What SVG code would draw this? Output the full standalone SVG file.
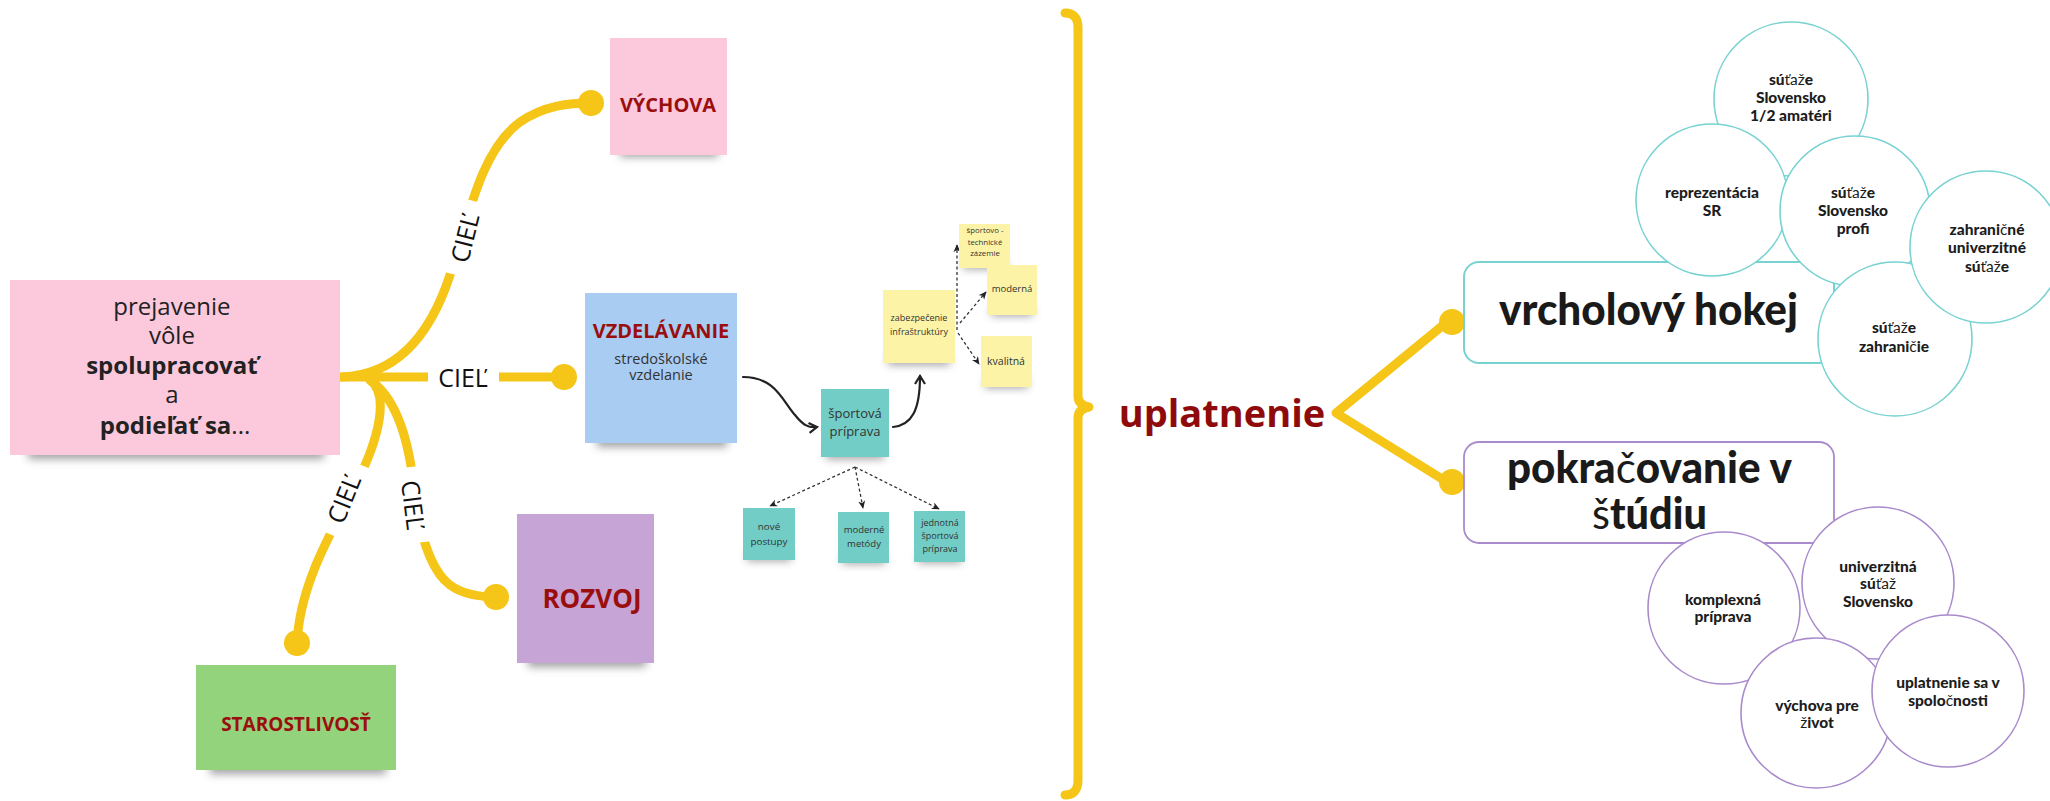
<svg xmlns="http://www.w3.org/2000/svg" width="2050" height="801" viewBox="0 0 2050 801">
<defs>
<style>
.y{fill:none;stroke:#f5c518;stroke-width:9;stroke-linecap:round;stroke-linejoin:round}
.dot{fill:#f5c518}
.os{font-family:"Open Sans","Noto Sans","Liberation Sans",sans-serif}
.ttl{font-family:"Open Sans","Noto Sans","Liberation Sans",sans-serif;font-weight:700;fill:#9b0e0e;text-anchor:middle}
.cl{font-family:"Open Sans","Noto Sans","Liberation Sans",sans-serif;font-size:25px;fill:#111;text-anchor:middle}
.sm{font-family:"Open Sans","Noto Sans","Liberation Sans",sans-serif;fill:#333;text-anchor:middle}
.sh{fill:#444;opacity:.5;filter:url(#blur)}
.ccy{fill:#fff;stroke:#79d2d2;stroke-width:1.6}
.cpu{fill:#fff;stroke:#a98bcc;stroke-width:1.6}
.rt{font-family:Lato,"Noto Sans","Liberation Sans",sans-serif;font-weight:900;font-size:15.5px;fill:#1d1d1d;text-anchor:middle}
.big{font-family:Lato,"Noto Sans","Liberation Sans",sans-serif;font-weight:900;font-size:43px;fill:#1a1a1a;text-anchor:middle}
.lt{font-weight:400}
.ar{fill:none;stroke:#222;stroke-width:2.2;stroke-linecap:round}
.da{fill:none;stroke:#333;stroke-width:1.3;stroke-dasharray:3 2.5}
.bg{fill:#fff}
</style>
<filter id="blur" x="-20%" y="-80%" width="140%" height="260%"><feGaussianBlur stdDeviation="4"/></filter>
<marker id="ah" viewBox="0 0 12 12" refX="10" refY="6" markerWidth="12" markerHeight="12" markerUnits="userSpaceOnUse" orient="auto"><path d="M2,1 L10,6 L2,11" fill="none" stroke="#222" stroke-width="2.2"/></marker>
<marker id="dh" viewBox="0 0 10 10" refX="9" refY="5" markerWidth="8" markerHeight="8" markerUnits="userSpaceOnUse" orient="auto"><path d="M0,0.5 L10,5 L0,9.5 L3,5 z" fill="#222"/></marker>
</defs>
<rect width="2050" height="801" fill="#fff"/>

<g id="connectors">
  <path class="y" d="M342,377 C400,375 432,330 450,275 C470,210 482,150 520,122 C545,105 570,103 591,103"/>
  <path class="y" d="M340,377 L564,377"/>
  <path class="y" d="M370,380 C390,395 378,440 358,480 C336,525 300,580 297,643"/>
  <path class="y" d="M370,380 C396,398 408,440 413,480 C418,530 430,570 450,585 C462,594 480,597 497,597"/>
  <circle class="dot" cx="591" cy="103" r="13"/>
  <circle class="dot" cx="564" cy="377" r="13"/>
  <circle class="dot" cx="297" cy="643" r="13"/>
  <circle class="dot" cx="496" cy="597" r="13"/>
  <g transform="translate(465,238) rotate(-76)"><rect class="bg" x="-38" y="-15" width="76" height="30"/><text class="cl" y="9">CIEĽ</text></g>
  <g><rect class="bg" x="428" y="362" width="71" height="30"/><text class="cl" x="463" y="387">CIEĽ</text></g>
  <g transform="translate(344,499) rotate(-68)"><rect class="bg" x="-38" y="-15" width="76" height="30"/><text class="cl" y="9">CIEĽ</text></g>
  <g transform="translate(413,505) rotate(83)"><rect class="bg" x="-38" y="-15" width="76" height="30"/><text class="cl" y="9">CIEĽ</text></g>
  <path class="ar" marker-end="url(#ah)" d="M743,377 C775,377 782,400 795,415 C803,425 808,428 817,427"/>
  <path class="ar" marker-end="url(#ah)" d="M893,427 C912,425 920,410 920,376"/>
  <path class="da" marker-end="url(#dh)" d="M957,330 L957,245"/>
  <path class="da" marker-end="url(#dh)" d="M960,323 L986,292"/>
  <path class="da" marker-end="url(#dh)" d="M958,333 L979,364"/>
  <path class="da" marker-end="url(#dh)" d="M855,467 L770,506"/>
  <path class="da" marker-end="url(#dh)" d="M855,467 L863,508"/>
  <path class="da" marker-end="url(#dh)" d="M855,467 L939,509"/>
  <path class="y" stroke-width="8" d="M1065,13 Q1078,13 1078,28 L1078,396 Q1078,405 1089,407 Q1078,409 1078,418 L1078,780 Q1078,795 1065,795"/>
  <path class="y" d="M1447,322 L1336,413 L1447,482"/>
  <circle class="dot" cx="1452" cy="322" r="13"/>
  <circle class="dot" cx="1452" cy="482" r="13"/>
</g>

<g id="root">
  <rect class="sh" x="28" y="443" width="296" height="16"/>
  <rect x="10" y="280" width="330" height="175" fill="#fcc9dc"/>
  <text class="os" font-size="24" fill="#222" text-anchor="middle">
    <tspan x="175" y="315">prejavenie</tspan>
    <tspan x="175" y="344">vôle</tspan>
    <tspan x="175" y="374" font-weight="700">spolupracovať</tspan>
    <tspan x="175" y="403">a</tspan>
    <tspan x="175" y="434" font-weight="700">podieľať sa<tspan font-weight="400">...</tspan></tspan>
  </text>
</g>
<g id="vychova">
  <rect class="sh" x="620" y="143" width="98" height="14"/>
  <rect x="610" y="38" width="117" height="117" fill="#fcc9dc"/>
  <text class="ttl" x="668" y="112" font-size="20">VÝCHOVA</text>
</g>
<g id="vzdelavanie">
  <rect class="sh" x="597" y="431" width="130" height="16"/>
  <rect x="585" y="293" width="152" height="150" fill="#a9ccf2"/>
  <text class="ttl" x="661" y="338" font-size="20">VZDELÁVANIE</text>
  <text class="sm" font-size="14.5"><tspan x="661" y="364">stredoškolské</tspan><tspan x="661" y="380">vzdelanie</tspan></text>
</g>
<g id="rozvoj">
  <rect class="sh" x="528" y="651" width="118" height="16"/>
  <rect x="517" y="514" width="137" height="149" fill="#c7a4d6"/>
  <text class="ttl" x="592" y="608" font-size="26">ROZVOJ</text>
</g>
<g id="starostlivost">
  <rect class="sh" x="210" y="758" width="176" height="16"/>
  <rect x="196" y="665" width="200" height="105" fill="#93d37b"/>
  <text class="ttl" x="296" y="731" font-size="19">STAROSTLIVOSŤ</text>
</g>

<g id="sportova-priprava">
  <rect class="sh" x="826" y="449" width="58" height="10"/>
  <rect x="821" y="389" width="68" height="68" fill="#71cdc6"/>
  <text class="sm" font-size="13"><tspan x="855" y="418">športová</tspan><tspan x="855" y="436">príprava</tspan></text>
</g>
<g id="zabezpecenie">
  <rect class="sh" x="888" y="355" width="62" height="10"/>
  <rect x="883" y="290" width="72" height="73" fill="#fcf3a6"/>
  <text class="sm" font-size="9"><tspan x="919" y="321">zabezpečenie</tspan><tspan x="919" y="335">infraštruktúry</tspan></text>
</g>
<g id="zazemie">
  <rect class="sh" x="963" y="260" width="43" height="9"/>
  <rect x="959" y="224" width="51" height="44" fill="#fcf3a6"/>
  <text class="sm" font-size="7.8"><tspan x="985" y="233">športovo -</tspan><tspan x="985" y="244.5">technické</tspan><tspan x="985" y="256">zázemie</tspan></text>
</g>
<g id="moderna">
  <rect class="sh" x="991" y="307" width="42" height="9"/>
  <rect x="987" y="265" width="50" height="50" fill="#fcf3a6"/>
  <text class="sm" x="1012" y="292" font-size="9.5">moderná</text>
</g>
<g id="kvalitna">
  <rect class="sh" x="985" y="379" width="43" height="9"/>
  <rect x="981" y="336" width="51" height="51" fill="#fcf3a6"/>
  <text class="sm" x="1006" y="365" font-size="10.5">kvalitná</text>
</g>
<g id="nove-postupy">
  <rect class="sh" x="747" y="552" width="44" height="9"/>
  <rect x="743" y="508" width="52" height="52" fill="#71cdc6"/>
  <text class="sm" font-size="9.8"><tspan x="769" y="530">nové</tspan><tspan x="769" y="545">postupy</tspan></text>
</g>
<g id="moderne-metody">
  <rect class="sh" x="842" y="555" width="43" height="9"/>
  <rect x="838" y="512" width="51" height="51" fill="#71cdc6"/>
  <text class="sm" font-size="9.5"><tspan x="864" y="533">moderné</tspan><tspan x="864" y="547">metódy</tspan></text>
</g>
<g id="jednotna">
  <rect class="sh" x="918" y="554" width="43" height="9"/>
  <rect x="914" y="511" width="51" height="51" fill="#71cdc6"/>
  <text class="sm" font-size="9"><tspan x="940" y="526">jednotná</tspan><tspan x="940" y="539">športová</tspan><tspan x="940" y="552">príprava</tspan></text>
</g>

<g id="uplatnenie">
  <text class="os" x="1222" y="427" font-size="38" font-weight="700" fill="#8f0b0b" text-anchor="middle">uplatnenie</text>
</g>

<g id="vrcholovy-hokej">
  <rect x="1464" y="262" width="370" height="101" rx="15" fill="#fff" stroke="#79d2d2" stroke-width="2"/>
  <text class="big" x="1648.5" y="325" textLength="299" lengthAdjust="spacingAndGlyphs">vrcholový hokej</text>
</g>
<g id="c-amateri">
  <circle class="ccy" cx="1791" cy="99" r="77"/>
  <text class="rt"><tspan x="1791" y="85">sú<tspan class="lt">ťaž</tspan>e</tspan><tspan x="1791" y="103">Slovensko</tspan><tspan x="1791" y="121">1/2 amatéri</tspan></text>
</g>
<g id="c-reprezentacia">
  <circle class="ccy" cx="1712" cy="200" r="76"/>
  <text class="rt"><tspan x="1712" y="198">reprezentácia</tspan><tspan x="1712" y="216">SR</tspan></text>
</g>
<g id="c-profi">
  <circle class="ccy" cx="1855" cy="211" r="75"/>
  <text class="rt"><tspan x="1853" y="198">sú<tspan class="lt">ťaž</tspan>e</tspan><tspan x="1853" y="216">Slovensko</tspan><tspan x="1853" y="234">profi</tspan></text>
</g>
<g id="c-zahranicie">
  <circle class="ccy" cx="1895" cy="339" r="77"/>
  <text class="rt"><tspan x="1894" y="333">sú<tspan class="lt">ťaž</tspan>e</tspan><tspan x="1894" y="352">zahrani<tspan class="lt">č</tspan>ie</tspan></text>
</g>
<g id="c-univerzitne">
  <circle class="ccy" cx="1986" cy="247" r="76"/>
  <text class="rt"><tspan x="1987" y="235">zahrani<tspan class="lt">č</tspan>né</tspan><tspan x="1987" y="253">univerzitné</tspan><tspan x="1987" y="272">sú<tspan class="lt">ťaž</tspan>e</tspan></text>
</g>

<g id="pokracovanie">
  <rect x="1464" y="442" width="370" height="101" rx="15" fill="#fff" stroke="#a98bcc" stroke-width="1.8"/>
  <text class="big" x="1649.5" y="483" textLength="285" lengthAdjust="spacingAndGlyphs">pokra<tspan class="lt">č</tspan>ovanie v</text>
  <text class="big" x="1649.5" y="529" textLength="115" lengthAdjust="spacingAndGlyphs"><tspan class="lt">š</tspan>túdiu</text>
</g>
<g id="c-komplexna">
  <circle class="cpu" cx="1724" cy="608" r="76"/>
  <text class="rt"><tspan x="1723" y="605">komplexná</tspan><tspan x="1723" y="622">príprava</tspan></text>
</g>
<g id="c-univerzitna">
  <circle class="cpu" cx="1878" cy="583" r="76"/>
  <text class="rt"><tspan x="1878" y="572">univerzitná</tspan><tspan x="1878" y="589">sú<tspan class="lt">ťaž</tspan></tspan><tspan x="1878" y="607">Slovensko</tspan></text>
</g>
<g id="c-vychova-zivot">
  <circle class="cpu" cx="1816" cy="713" r="75"/>
  <text class="rt"><tspan x="1817" y="711">výchova pre</tspan><tspan x="1817" y="728"><tspan class="lt">ž</tspan>ivot</tspan></text>
</g>
<g id="c-spolocnost">
  <circle class="cpu" cx="1948" cy="691" r="76"/>
  <text class="rt"><tspan x="1948" y="688">uplatnenie sa v</tspan><tspan x="1948" y="706">spolo<tspan class="lt">č</tspan>nosti</tspan></text>
</g>
</svg>
